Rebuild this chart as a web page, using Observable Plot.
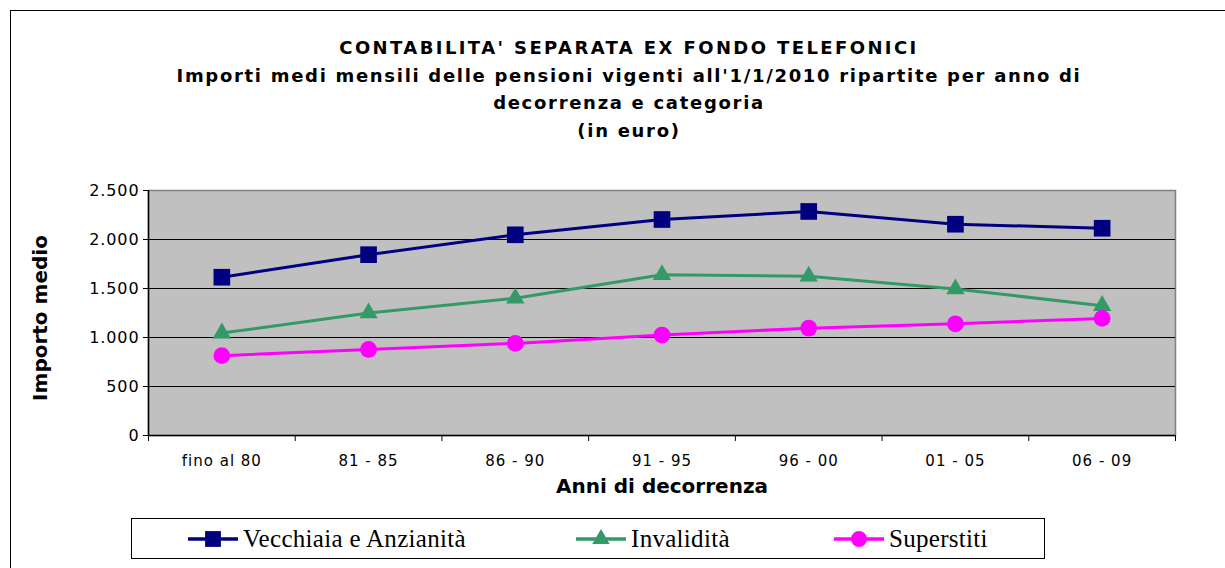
<!DOCTYPE html>
<html><head><meta charset="utf-8">
<script src="https://cdn.jsdelivr.net/npm/d3@7"></script>
<script src="https://cdn.jsdelivr.net/npm/@observablehq/plot@0.6"></script>
<style>
body{margin:0;background:#fff;overflow:hidden;width:1225px;height:568px;position:relative;font-family:"DejaVu Sans",Verdana,sans-serif}
#frame{position:absolute;left:10px;top:10px;width:1300px;height:700px;border:1px solid #000}
#title{position:absolute;left:10px;width:1238px;top:34px;text-align:center;font-weight:bold;font-size:18px;line-height:27.7px;color:#000;letter-spacing:1.7px}
#title .l1{letter-spacing:2.4px}
#chart{position:absolute;left:0;top:150px}
#chart g[aria-label="y-axis tick label"] text{letter-spacing:0.9px}
#chart g[aria-label="x-axis tick label"] text{letter-spacing:1px}
#legend{position:absolute;left:131px;top:518px;width:914px;height:41px;border:1px solid #000;box-sizing:border-box;background:#fff}
.item{position:absolute;top:0;height:39px;display:flex;align-items:center;font-family:"Liberation Serif",serif;font-size:25px;letter-spacing:0.3px;color:#000;white-space:nowrap}
.item svg{margin-right:5px}
</style></head>
<body>
<div id="frame"></div>
<div id="title"><span class="l1">CONTABILITA' SEPARATA EX FONDO TELEFONICI</span><br>Importi medi mensili delle pensioni vigenti all'1/1/2010 ripartite per anno di<br>decorrenza e categoria<br>(in euro)</div>
<div id="chart"></div>
<div id="legend"></div>
<script>
const categories = ["fino al 80","81 - 85","86 - 90","91 - 95","96 - 00","01 - 05","06 - 09"];
const vecchiaia = [1615, 1845, 2048, 2204, 2286, 2156, 2115];
const invalidita = [1045, 1250, 1400, 1640, 1625, 1495, 1325];
const superstiti = [815, 878, 940, 1025, 1095, 1140, 1195];
const seriesNames = ["Vecchiaia e Anzianità","Invalidità","Superstiti"];
const seriesColors = ["#000080","#339966","#FF00FF"];
const seriesSymbols = ["square","triangle","circle"];
const seriesR = [9.4, 6.8, 8.4];
const yTicks = [0,500,1000,1500,2000,2500];
const xTitle = "Anni di decorrenza";
const yTitle = "Importo medio";

const allSeries = [vecchiaia, invalidita, superstiti];
const data = [];
allSeries.forEach((vals, s) => vals.forEach((v, i) => data.push({cat: categories[i], idx: i + 0.5, value: v, series: seriesNames[s]})));

const fmt = d => d3.format(",")(d).replace(/,/g, ".");

const seriesMarks = seriesNames.flatMap((name, s) => {
  const sd = data.filter(d => d.series === name);
  return [
    Plot.line(sd, {x: "idx", y: "value", stroke: seriesColors[s], strokeWidth: 3}),
    Plot.dot(sd, {x: "idx", y: "value", symbol: seriesSymbols[s], fill: seriesColors[s], stroke: "none", r: seriesR[s]})
  ];
});

const plot = Plot.plot({
  width: 1225, height: 360,
  marginLeft: 148, marginRight: 50, marginTop: 40, marginBottom: 75,
  style: {fontFamily: "DejaVu Sans, Verdana, sans-serif", fontSize: "15px", color: "#000", background: "transparent", overflow: "visible"},
  x: {type: "linear", domain: [0, categories.length]},
  y: {domain: [0, 2500]},
  marks: [
    Plot.frame({fill: "#C0C0C0", stroke: "#808080", strokeWidth: 1.5}),
    Plot.ruleY(yTicks.filter(d => d > 0 && d < 2500), {stroke: "#000", strokeWidth: 1}),
    Plot.ruleX([0], {stroke: "#000", strokeWidth: 1.5}),
    Plot.ruleY([0], {stroke: "#000", strokeWidth: 1.5}),
    Plot.axisY(yTicks, {tickSize: 5, tickFormat: fmt, fontSize: 16, label: null, tickPadding: 4}),
    Plot.axisX(d3.range(categories.length + 1), {tickSize: 6, tickFormat: () => "", label: null}),
    Plot.axisX(d3.range(categories.length).map(i => i + 0.5), {tickSize: 0, tickFormat: d => categories[Math.floor(d)], tickPadding: 20, label: null, fontSize: 15}),
    Plot.text([xTitle], {frameAnchor: "bottom", dy: 57, fontWeight: "bold", fontSize: 20, text: d => d}),
    Plot.text([yTitle], {frameAnchor: "left", textAnchor: "middle", dx: -108, dy: 5, rotate: -90, fontWeight: "bold", fontSize: 20, text: d => d}),
    ...seriesMarks
  ]
});
document.getElementById("chart").appendChild(plot);

// legend
const legend = d3.select("#legend");
const legendLeft = [56, 444, 702];
seriesNames.forEach((name, s) => {
  const item = legend.append("div").attr("class", "item").style("left", legendLeft[s] + "px");
  const svg = item.append("svg").attr("width", 50).attr("height", 22);
  svg.append("line").attr("x1", 0).attr("x2", 50).attr("y1", 11).attr("y2", 11).attr("stroke", seriesColors[s]).attr("stroke-width", 3.5);
  const sym = {square: d3.symbolSquare, triangle: d3.symbolTriangle, circle: d3.symbolCircle}[seriesSymbols[s]];
  svg.append("path").attr("transform", "translate(25,11)").attr("d", d3.symbol(sym, Math.PI * seriesR[s] * seriesR[s] * 0.9)()).attr("fill", seriesColors[s]);
  item.append("span").text(name);
});
</script>
</body></html>
